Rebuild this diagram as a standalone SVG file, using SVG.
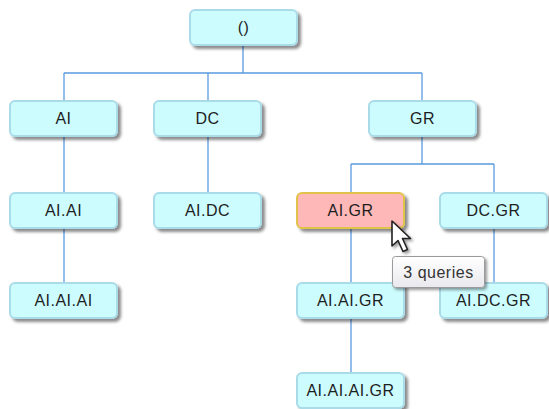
<svg xmlns="http://www.w3.org/2000/svg" width="549" height="409" viewBox="0 0 549 409">
  <style>
    .node rect { fill: #cdfcff; stroke: #a9dbe8; stroke-width: 2; }
    .node.hot rect { fill: #ffb8b8; stroke: #e2c34a; }
    .node text { font-family: "Liberation Sans", Arial, sans-serif; font-size: 16px; fill: #1e1e1e; text-anchor: middle; letter-spacing: 0.5px; }
    .edges path { fill: none; stroke: #5a9ae0; stroke-width: 1.3; }
    .tip rect { fill: #f7f7f9; stroke: #9a9a9a; stroke-width: 1; }
    .tip text { font-family: "Liberation Sans", Arial, sans-serif; font-size: 16px; fill: #333; text-anchor: middle; letter-spacing: 0.5px; }
  </style>
  <defs>
    <filter id="shadow" x="-10%" y="-20%" width="130%" height="160%">
      <feDropShadow dx="3" dy="3" stdDeviation="1.6" flood-color="#000" flood-opacity="0.45"/>
    </filter>
    <filter id="cshadow" x="-30%" y="-30%" width="180%" height="180%">
      <feDropShadow dx="2" dy="2" stdDeviation="1.5" flood-color="#000" flood-opacity="0.4"/>
    </filter>
    <linearGradient id="tipfill" x1="0" y1="0" x2="0" y2="1">
      <stop offset="0" stop-color="#ffffff"/>
      <stop offset="1" stop-color="#e9e9ee"/>
    </linearGradient>
  </defs>

  <g class="edges">
    <path d="M243,45 V73 M64,73 H422 M64,73 V101 M208,73 V101 M422,73 V101"/>
    <path d="M64,136 V192 M64,228 V282"/>
    <path d="M208,136 V192"/>
    <path d="M422,136 V164 M351,164 H494 M351,164 V192 M494,164 V192"/>
    <path d="M351,228 V282 M494,228 V282 M351,318 V372"/>
  </g>

  <g id="n-root" class="node"><rect x="190" y="10" width="107" height="35" rx="5" filter="url(#shadow)"/><text x="243.5" y="33">()</text></g>
  <g id="n-ai" class="node"><rect x="10" y="101" width="107" height="35" rx="5" filter="url(#shadow)"/><text x="63.5" y="124">AI</text></g>
  <g id="n-dc" class="node"><rect x="154" y="101" width="107" height="35" rx="5" filter="url(#shadow)"/><text x="207.5" y="124">DC</text></g>
  <g id="n-gr" class="node"><rect x="369" y="101" width="107" height="35" rx="5" filter="url(#shadow)"/><text x="422.5" y="124">GR</text></g>
  <g id="n-ai-ai" class="node"><rect x="10" y="193" width="107" height="35" rx="5" filter="url(#shadow)"/><text x="63.5" y="216">AI.AI</text></g>
  <g id="n-ai-dc" class="node"><rect x="154" y="193" width="107" height="35" rx="5" filter="url(#shadow)"/><text x="207.5" y="216">AI.DC</text></g>
  <g id="n-ai-gr" class="node hot"><rect x="297" y="193" width="107" height="35" rx="5" filter="url(#shadow)"/><text x="350.5" y="216">AI.GR</text></g>
  <g id="n-dc-gr" class="node"><rect x="440" y="193" width="107" height="35" rx="5" filter="url(#shadow)"/><text x="493.5" y="216">DC.GR</text></g>
  <g id="n-ai-ai-ai" class="node"><rect x="10" y="283" width="107" height="35" rx="5" filter="url(#shadow)"/><text x="63.5" y="306">AI.AI.AI</text></g>
  <g id="n-ai-ai-gr" class="node"><rect x="297" y="283" width="107" height="35" rx="5" filter="url(#shadow)"/><text x="350.5" y="306">AI.AI.GR</text></g>
  <g id="n-ai-dc-gr" class="node"><rect x="440" y="283" width="107" height="35" rx="5" filter="url(#shadow)"/><text x="493.5" y="306">AI.DC.GR</text></g>
  <g id="n-ai-ai-ai-gr" class="node"><rect x="297" y="373" width="107" height="35" rx="5" filter="url(#shadow)"/><text x="350.5" y="396">AI.AI.AI.GR</text></g>

  <!-- hover tooltip and mouse pointer -->
  <g id="tooltip" class="tip">
    <rect x="392.5" y="256.5" width="92" height="31" rx="3" style="fill:url(#tipfill)" filter="url(#cshadow)"/>
    <text x="438.5" y="278">3 queries</text>
  </g>
  <path id="cursor" d="M392,221 L392,246 L398,240.5 L403,251.5 L407.5,249.5 L402.5,238.5 L410.5,238.5 Z" fill="#ffffff" stroke="#222" stroke-width="1.6" stroke-linejoin="round" filter="url(#cshadow)"/>
</svg>
